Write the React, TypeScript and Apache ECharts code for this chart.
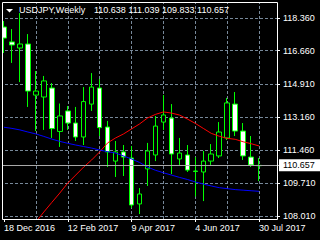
import React, { useEffect, useRef } from "react";
import * as echarts from "echarts";

const symbolName = "USDJPY,Weekly";

const categories = [
  "18 Dec 2016", "25 Dec 2016", "1 Jan 2017", "8 Jan 2017", "15 Jan 2017", "22 Jan 2017",
  "29 Jan 2017", "5 Feb 2017", "12 Feb 2017", "19 Feb 2017", "26 Feb 2017", "5 Mar 2017",
  "12 Mar 2017", "19 Mar 2017", "26 Mar 2017", "2 Apr 2017", "9 Apr 2017", "16 Apr 2017",
  "23 Apr 2017", "30 Apr 2017", "7 May 2017", "14 May 2017", "21 May 2017", "28 May 2017",
  "4 Jun 2017", "11 Jun 2017", "18 Jun 2017", "25 Jun 2017", "2 Jul 2017", "9 Jul 2017",
  "16 Jul 2017", "23 Jul 2017", "30 Jul 2017",
];

const opens = [
  117.89, 117.11, 116.79, 117.0, 114.33, 114.23, 114.7, 112.43, 113.5, 112.87, 112.14, 113.86,
  114.7, 112.66, 110.88, 111.36, 111.04, 108.64, 110.47, 111.2, 112.92, 113.13, 110.99, 111.2,
  110.36, 110.31, 110.88, 111.15, 112.09, 113.86, 112.45, 111.09, 110.638,
];
const closes = [
  117.31, 116.95, 117.0, 114.54, 114.54, 115.07, 112.58, 113.24, 112.87, 112.14, 113.99, 114.75,
  112.63, 111.36, 111.36, 111.09, 108.585, 109.16, 111.41, 112.71, 113.29, 111.25, 111.3, 110.41,
  110.34, 110.88, 111.25, 112.4, 113.92, 112.45, 111.15, 110.68, 110.657,
];
const lows = [
  116.53, 116.01, 115.01, 113.71, 112.45, 112.51, 112.09, 111.62, 112.51, 111.93, 111.72, 113.5,
  112.19, 110.57, 110.05, 110.1, 108.43, 108.11, 109.58, 110.88, 112.51, 110.2, 110.68, 110.31,
  109.03, 108.79, 110.68, 111.04, 111.98, 112.19, 110.94, 110.57, 109.833,
];
const highs = [
  118.2, 117.78, 118.62, 117.52, 115.59, 115.33, 114.96, 113.89, 113.76, 113.71, 114.75, 115.48,
  115.17, 112.98, 111.93, 111.72, 111.67, 109.47, 111.83, 113.24, 114.33, 113.86, 112.09, 111.72,
  111.09, 111.41, 111.77, 112.92, 114.18, 114.49, 112.87, 112.19, 111.039,
];

const maRed = [
  "-", "-", "-", "-", 107.7, 108.22, 108.72, 109.21, 109.73, 110.15, 110.57, 110.94, 111.36,
  111.83, 112.09, 112.3, 112.56, 112.82, 113.13, 113.32, 113.45, 113.39, 113.29, 113.08, 112.85,
  112.59, 112.33, 112.18, 112.07, 112.02, 111.89, 111.79, 111.67,
];
const maBlue = [
  112.65, 112.59, 112.51, 112.4, 112.3, 112.17, 112.03, 111.91, 111.81, 111.72, 111.64, 111.56,
  111.46, 111.37, 111.3, 111.15, 110.99, 110.81, 110.57, 110.4, 110.27, 110.15, 110.03, 109.92,
  109.79, 109.68, 109.58, 109.49, 109.44, 109.39, 109.36, 109.33, 109.3,
];

const yTicks = [108.01, 109.71, 111.46, 113.16, 114.91, 116.66, 118.36];
const yMin = 107.853;
const yMax = 119.196;

const FONT = "'Liberation Sans', Arial, sans-serif";
const GRID_COLOR = "#778899";

export default function App() {
  const ref = useRef<HTMLDivElement>(null);

  useEffect(() => {
    if (!ref.current) return;
    const chart = echarts.init(ref.current, null, { renderer: "svg" });
    const cats = [...categories, "", ""];
    const candleData = opens.map((o, i) => [o, closes[i], lows[i], highs[i]]);
    const last = opens.length - 1;
    const lastClose = closes[last];
    const headerValues = [opens[last], highs[last], lows[last], closes[last]]
      .map((v) => v.toFixed(3))
      .join(" ");
    const vGrid = categories
      .map((c, i) => ({ c, i }))
      .filter((d) => d.i > 0 && d.i % 4 === 0)
      .map((d) => ({ xAxis: d.i }));
    const hGrid = yTicks.map((v) => ({ yAxis: v }));

    chart.setOption({
      animation: false,
      backgroundColor: "#000000",
      grid: { left: -1, top: 2, width: 280, height: 217, containLabel: false },
      xAxis: {
        type: "category",
        data: cats,
        boundaryGap: true,
        axisLine: { show: false },
        axisTick: {
          show: true,
          interval: 7,
          alignWithLabel: true,
          length: 3,
          lineStyle: { color: "#ffffff" },
        },
        axisLabel: {
          interval: 7,
          align: "left",
          color: "#ffffff",
          fontSize: 9,
          fontFamily: FONT,
          margin: 4,
        },
        splitLine: { show: false },
      },
      yAxis: {
        type: "value",
        position: "right",
        offset: -2,
        min: yMin,
        max: yMax,
        axisLine: { show: false },
        splitLine: { show: false },
        axisTick: {
          show: true,
          length: 3,
          customValues: yTicks,
          lineStyle: { color: "#ffffff" },
        },
        axisLabel: {
          customValues: yTicks,
          formatter: (v: number) => v.toFixed(3),
          color: "#ffffff",
          fontSize: 9,
          fontFamily: FONT,
          margin: 6,
        },
      },
      series: [
        {
          type: "line",
          data: categories.map(() => "-"),
          z: 0,
          zlevel: 0,
          silent: true,
          symbol: "none",
          markLine: {
            silent: true,
            z: 0,
            symbol: ["none", "none"],
            label: { show: false },
            lineStyle: { color: GRID_COLOR, type: [3, 2], width: 1 },
            data: [...vGrid, ...hGrid],
          },
        },
        {
          type: "candlestick",
          data: candleData,
          z: 10,
          barWidth: 5,
          itemStyle: {
            color: "#000000",
            color0: "#ffffff",
            borderColor: "#00ff00",
            borderColor0: "#00ff00",
            borderWidth: 1,
          },
        },
        {
          type: "line",
          data: maRed,
          z: 11,
          symbol: "none",
          lineStyle: { color: "#ff0000", width: 1 },
        },
        {
          type: "line",
          data: maBlue,
          z: 11,
          symbol: "none",
          lineStyle: { color: "#0000ff", width: 1 },
        },
        {
          type: "line",
          data: categories.map(() => "-"),
          z: 12,
          symbol: "none",
          markLine: {
            silent: true,
            z: 12,
            symbol: ["none", "none"],
            lineStyle: { color: "#a8a8a8", type: "solid", width: 1 },
            label: {
              show: true,
              position: "end",
              distance: 0,
              formatter: () => lastClose.toFixed(3),
              backgroundColor: "#ffffff",
              color: "#000000",
              fontSize: 9,
              fontFamily: FONT,
              padding: [2, 6, 1, 4],
            },
            data: [{ yAxis: lastClose }],
          },
        },
      ],
      graphic: [
        {
          type: "rect",
          silent: true,
          z: 99,
          shape: { x: 0, y: 0, width: 2, height: 222 },
          style: { fill: "#000000" },
        },
        {
          type: "rect",
          silent: true,
          z: 100,
          shape: { x: 2.5, y: 2.5, width: 275, height: 217 },
          style: { fill: "none", stroke: "#ffffff", lineWidth: 1 },
        },
        {
          type: "polygon",
          silent: true,
          z: 100,
          shape: { points: [[6, 9], [13, 9], [9.5, 12.5]] },
          style: { fill: "#ffffff" },
        },
        {
          type: "text",
          silent: true,
          z: 100,
          x: 19,
          y: 10,
          style: {
            text: symbolName,
            fill: "#ffffff",
            fontSize: 9,
            fontFamily: FONT,
            verticalAlign: "middle",
          },
        },
        {
          type: "text",
          silent: true,
          z: 100,
          x: 94,
          y: 10,
          style: {
            text: headerValues,
            fill: "#ffffff",
            fontSize: 9,
            fontFamily: FONT,
            verticalAlign: "middle",
          },
        },
      ],
    });
    return () => chart.dispose();
  }, []);

  return (
    <div
      ref={ref}
      style={{ position: "fixed", left: 0, top: 0, width: 320, height: 240 }}
    />
  );
}
